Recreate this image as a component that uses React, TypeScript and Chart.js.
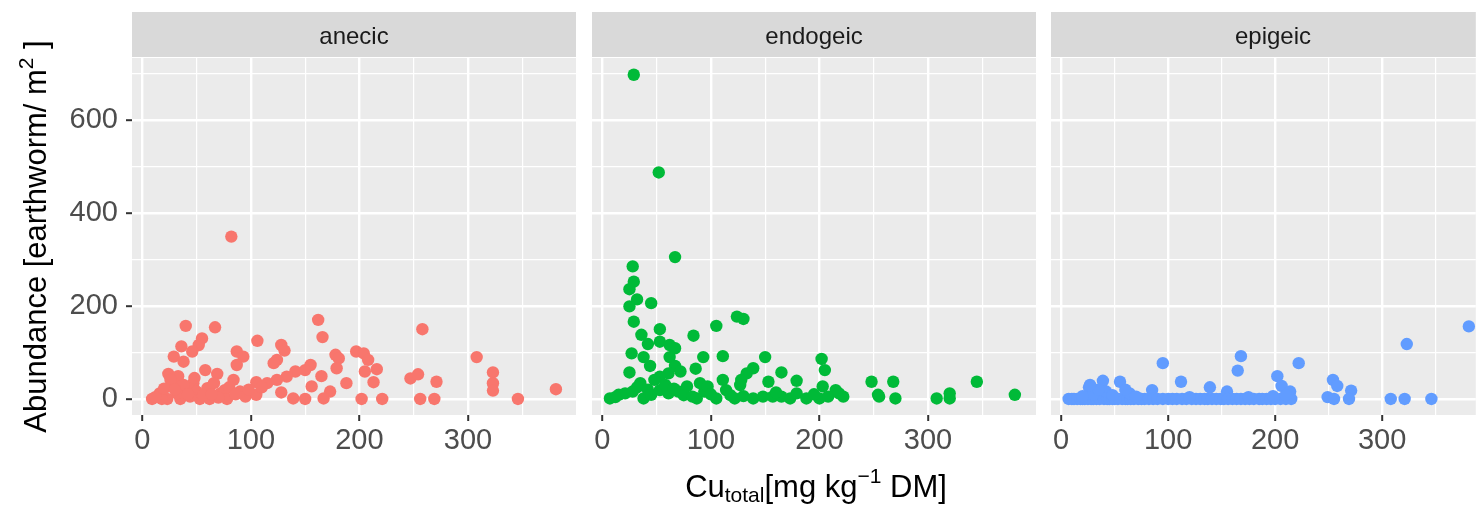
import React, { useEffect, useRef } from "react";
import { Chart, registerables } from "chart.js";

Chart.register(...registerables);

// ---------------- data ----------------
const facetNames = ["anecic", "endogeic", "epigeic"];
const facetColors = ["#F8766D", "#00BA38", "#619CFF"];

const anecicCu = [
  82, 40, 67, 162, 166, 258, 106, 55, 52, 36, 46, 29, 38, 128, 131, 124, 121, 87, 93, 87,
  58, 69, 24, 33, 155, 150, 141, 133, 178, 181, 179, 165, 156, 173, 167, 188, 197, 204, 208, 205,
  216, 213, 202, 221, 247, 254, 271, 256, 269, 308, 323, 323, 323, 346, 381, 128, 139, 150, 105, 115,
  124, 95, 105, 84, 9, 16, 23, 29, 35, 41, 47, 53, 60, 66, 72, 76, 62, 26, 50, 44,
  32, 18, 78, 90, 12, 20, 38, 56, 70, 48, 30, 42, 64, 80, 98, 110, 86,
];
const anecicAbundance = [
  349, 157, 154, 170, 133, 150, 125, 130, 116, 113, 102, 91, 80, 116, 104, 84, 77, 102, 91, 73,
  62, 54, 54, 49, 73, 62, 59, 48, 95, 87, 66, 49, 27, 16, 1, 34, 102, 98, 84, 59,
  64, 36, 0, 0, 44, 53, 37, 0, 0, 90, 57, 34, 18, 0, 21, 14, 1, 0, 36, 34,
  41, 5, 9, 41, 0, 12, 0, 27, 0, 19, 34, 0, 23, 34, 12, 19, 0, 41, 16, 5,
  12, 0, 0, 16, 4, 22, 30, 8, 3, 45, 20, 10, 10, 25, 20, 25, 10,
];

const endogeicCu = [
  29, 52, 67, 28, 29, 25, 32, 25, 45, 29, 36, 42, 53, 53, 62, 67, 84, 105, 124, 130,
  111, 93, 86, 27, 38, 44, 25, 62, 67, 72, 61, 53, 150, 139, 133, 128, 127, 165, 179, 153,
  202, 205, 203, 215, 248, 268, 254, 270, 308, 320, 320, 345, 380, 7, 15, 21, 28, 38, 45, 53,
  61, 70, 78, 87, 94, 105, 111, 114, 122, 139, 148, 157, 165, 173, 179, 188, 200, 208, 222, 90,
  97, 35, 48, 32, 58, 66, 75, 100, 118, 130, 160, 195, 218, 255, 12, 42, 83,
];
const endogeicAbundance = [
  697, 487, 305, 285, 252, 236, 214, 199, 206, 166, 138, 118, 150, 123, 116, 109, 136, 157, 177, 172,
  92, 90, 65, 98, 90, 71, 57, 90, 71, 59, 55, 48, 90, 66, 55, 41, 30, 57, 39, 37,
  86, 62, 27, 19, 37, 37, 9, 1, 1, 12, 1, 37, 9, 1, 9, 12, 16, 1, 9, 19,
  12, 16, 27, 1, 16, 1, 41, 19, 1, 1, 5, 5, 5, 1, 12, 1, 1, 5, 5, 34,
  27, 34, 41, 25, 30, 22, 8, 10, 8, 6, 14, 10, 12, 5, 4, 20, 5,
];

const epigeicCu = [
  381, 323, 168, 165, 95, 222, 202, 206, 254, 258, 271, 269, 249, 255, 39, 55, 26, 112, 139, 85,
  155, 214, 308, 321, 346, 7, 10, 12, 15, 18, 20, 22, 25, 28, 30, 33, 36, 40, 43, 45,
  48, 50, 53, 57, 60, 62, 65, 68, 72, 75, 78, 82, 86, 90, 95, 100, 104, 108, 113, 117,
  122, 126, 130, 134, 137, 141, 145, 149, 152, 156, 160, 164, 168, 172, 176, 180, 185, 188, 192, 196,
  200, 205, 210, 215, 42, 64, 48, 30, 20, 70, 120, 175, 198, 210, 35, 60, 27,
];
const epigeicAbundance = [
  156, 118, 92, 61, 77, 77, 49, 28, 41, 28, 18, 0, 4, 0, 39, 37, 25, 37, 25, 19,
  16, 16, 0, 0, 0, 0, 0, 0, 0, 0, 0, 0, 0, 0, 0, 0, 0, 0, 0, 0,
  0, 0, 0, 0, 0, 0, 0, 0, 0, 0, 0, 0, 0, 0, 0, 0, 0, 0, 0, 0,
  0, 0, 0, 0, 0, 0, 0, 0, 0, 0, 0, 0, 0, 0, 0, 0, 0, 0, 0, 0,
  0, 0, 0, 0, 16, 12, 8, 10, 6, 5, 4, 4, 6, 8, 20, 20, 30,
];

const facetCu = [anecicCu, endogeicCu, epigeicCu];
const facetAbundance = [anecicAbundance, endogeicAbundance, epigeicAbundance];

const xMajorTicks = [0, 100, 200, 300];
const xMinorTicks = [50, 150, 250, 350];
const yMajorTicks = [0, 200, 400, 600];
const yMinorTicks = [100, 300, 500, 700];

const yTitleParts = ["Abundance [earthworm/ m", "2", " ]"];
const xTitleParts = ["Cu", "total", "[mg kg", "\u22121", " DM]"];

// ---------------- layout / style ----------------
const W = 1482;
const H = 505;
const FONT = '"Liberation Sans", Arial, Helvetica, sans-serif';
const PANELS = [
  { left: 132, right: 576, xMax: 399.5 },
  { left: 592, right: 1036, xMax: 399.5 },
  { left: 1051, right: 1482, xMax: 387.5 },
];
const X_MIN = -9.5;
const Y_MIN = -34.5;
const Y_MAX = 733;
const PANEL_TOP = 58;
const PANEL_BOTTOM = 415;
const STRIP_TOP = 12;
const STRIP_BOTTOM = 57;

type Seg = { text: string; size: number; dy: number };

function drawRich(ctx: CanvasRenderingContext2D, segs: Seg[], cx: number, baseY: number) {
  let total = 0;
  const widths = segs.map((s) => {
    ctx.font = `${s.size}px ${FONT}`;
    const w = ctx.measureText(s.text).width;
    total += w;
    return w;
  });
  let x = cx - total / 2;
  ctx.textAlign = "left";
  ctx.textBaseline = "alphabetic";
  segs.forEach((s, i) => {
    ctx.font = `${s.size}px ${FONT}`;
    ctx.fillText(s.text, x, baseY + s.dy);
    x += widths[i];
  });
}

function makePanelPlugin(idx: number) {
  return {
    id: "panelDecor" + idx,
    beforeDraw(chart: any) {
      const ctx = chart.ctx as CanvasRenderingContext2D;
      const ca = chart.chartArea;
      ctx.save();
      ctx.fillStyle = "#EBEBEB";
      ctx.fillRect(ca.left, ca.top, ca.right - ca.left, ca.bottom - ca.top);
      ctx.fillStyle = "#D9D9D9";
      ctx.fillRect(ca.left, STRIP_TOP, ca.right - ca.left, STRIP_BOTTOM - STRIP_TOP);
      ctx.fillStyle = "#1A1A1A";
      ctx.font = `24px ${FONT}`;
      ctx.textAlign = "center";
      ctx.textBaseline = "alphabetic";
      const right = idx === 2 ? PANELS[1].right - PANELS[1].left + ca.left : ca.right;
      ctx.fillText(facetNames[idx], (ca.left + right) / 2, 43.5);
      ctx.restore();
    },
    afterDraw(chart: any) {
      const ctx = chart.ctx as CanvasRenderingContext2D;
      ctx.save();
      ctx.fillStyle = "#000000";
      if (idx === 0) {
        ctx.translate(46, (PANEL_TOP + PANEL_BOTTOM) / 2);
        ctx.rotate(-Math.PI / 2);
        drawRich(
          ctx,
          [
            { text: yTitleParts[0], size: 31, dy: 0 },
            { text: yTitleParts[1], size: 21, dy: -13 },
            { text: yTitleParts[2], size: 31, dy: 0 },
          ],
          0,
          0
        );
      }
      if (idx === 1) {
        drawRich(
          ctx,
          [
            { text: xTitleParts[0], size: 31, dy: 0 },
            { text: xTitleParts[1], size: 21, dy: 5 },
            { text: xTitleParts[2], size: 31, dy: 0 },
            { text: xTitleParts[3], size: 21, dy: -14 },
            { text: xTitleParts[4], size: 31, dy: 0 },
          ],
          816,
          497
        );
      }
      ctx.restore();
    },
  };
}

const isIn = (arr: number[], v: number) => arr.some((a) => Math.abs(a - v) < 1e-6);

function buildConfig(idx: number): any {
  const panel = PANELS[idx];
  const cu = facetCu[idx];
  const ab = facetAbundance[idx];
  const color = facetColors[idx];
  const xTickVals = [...xMajorTicks, ...xMinorTicks].sort((a, b) => a - b).filter((v) => v <= panel.xMax);
  const yTickVals = [...yMajorTicks, ...yMinorTicks].sort((a, b) => a - b);
  return {
    type: "scatter",
    data: {
      datasets: [
        {
          label: facetNames[idx],
          data: cu.map((x, j) => ({ x, y: ab[j] })),
          backgroundColor: color,
          borderColor: color,
          pointRadius: 6.2,
          pointHoverRadius: 6.2,
          pointBorderWidth: 0,
        },
      ],
    },
    options: {
      animation: false,
      responsive: false,
      events: [],
      layout: {
        padding: {
          left: idx === 0 ? 0 : panel.left,
          right: W - panel.right,
          top: PANEL_TOP,
          bottom: 0,
        },
      },
      plugins: {
        legend: { display: false },
        tooltip: { enabled: false },
        title: { display: false },
      },
      scales: {
        x: {
          type: "linear",
          min: X_MIN,
          max: panel.xMax,
          offset: false,
          afterBuildTicks: (s: any) => {
            s.ticks = xTickVals.map((v) => ({ value: v }));
          },
          afterFit: (s: any) => {
            s.height = H - PANEL_BOTTOM;
          },
          border: { display: false },
          grid: {
            color: "#FFFFFF",
            lineWidth: (c: any) => (c.tick && isIn(xMajorTicks, c.tick.value) ? 2.4 : 1.2),
            drawTicks: true,
            tickLength: 6,
            tickWidth: 2,
            tickColor: (c: any) => (c.tick && isIn(xMajorTicks, c.tick.value) ? "#333333" : "rgba(0,0,0,0)"),
          },
          ticks: {
            autoSkip: false,
            maxRotation: 0,
            minRotation: 0,
            padding: 3,
            color: "#4D4D4D",
            font: { family: FONT, size: 29 },
            callback: (v: number) => (isIn(xMajorTicks, v) ? String(v) : ""),
          },
        },
        y: {
          type: "linear",
          min: Y_MIN,
          max: Y_MAX,
          afterBuildTicks: (s: any) => {
            s.ticks = yTickVals.map((v) => ({ value: v }));
          },
          afterFit: (s: any) => {
            s.width = idx === 0 ? panel.left : 0;
          },
          border: { display: false },
          grid: {
            color: "#FFFFFF",
            lineWidth: (c: any) => (c.tick && isIn(yMajorTicks, c.tick.value) ? 2.4 : 1.2),
            drawTicks: idx === 0,
            tickLength: 6,
            tickWidth: 2,
            tickColor: (c: any) => (c.tick && isIn(yMajorTicks, c.tick.value) ? "#333333" : "rgba(0,0,0,0)"),
          },
          ticks: {
            display: idx === 0,
            autoSkip: false,
            padding: 8,
            color: "#4D4D4D",
            font: { family: FONT, size: 29 },
            callback: (v: number) => (isIn(yMajorTicks, v) ? String(v) : ""),
          },
        },
      },
    },
    plugins: [makePanelPlugin(idx)],
  };
}

export default function App() {
  const r0 = useRef<HTMLCanvasElement>(null);
  const r1 = useRef<HTMLCanvasElement>(null);
  const r2 = useRef<HTMLCanvasElement>(null);

  useEffect(() => {
    const refs = [r0, r1, r2];
    const charts = refs.map((r, i) => new Chart(r.current as HTMLCanvasElement, buildConfig(i)));
    return () => charts.forEach((c) => c.destroy());
  }, []);

  const canvasStyle: React.CSSProperties = { position: "absolute", left: 0, top: 0, width: W, height: H };
  return (
    <div
      style={{
        position: "fixed",
        left: 0,
        top: 0,
        width: W,
        height: H,
        background: "#FFFFFF",
        overflow: "hidden",
      }}
    >
      <canvas ref={r0} width={W} height={H} style={canvasStyle} />
      <canvas ref={r1} width={W} height={H} style={canvasStyle} />
      <canvas ref={r2} width={W} height={H} style={canvasStyle} />
    </div>
  );
}
